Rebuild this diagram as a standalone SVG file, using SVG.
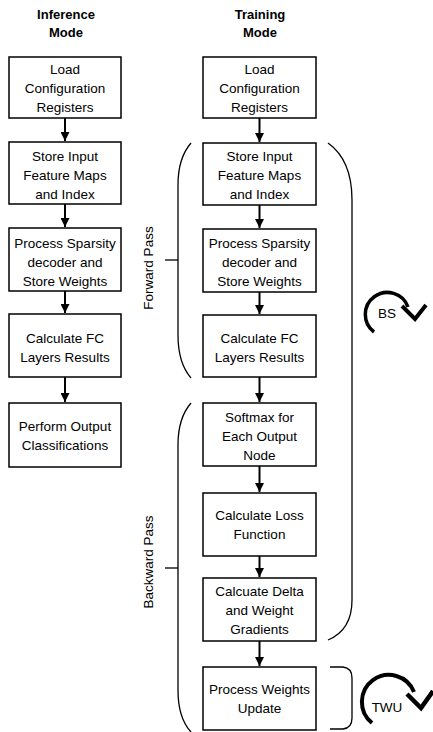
<svg xmlns="http://www.w3.org/2000/svg" width="433" height="732" viewBox="0 0 433 732">
<style>
.box{fill:#fff;stroke:#000;stroke-width:1.5}
.t{font-family:"Liberation Sans",Arial,sans-serif;font-size:13.5px;text-anchor:middle;fill:#000}
.h{font-family:"Liberation Sans",Arial,sans-serif;font-size:13px;font-weight:bold;text-anchor:middle;fill:#000}
.c{stroke:#000;stroke-width:2;fill:none}
.br{stroke:#000;stroke-width:1.3;fill:none}
.loop{stroke:#000;fill:none;stroke-linecap:butt}
</style>
<defs>
<marker id="ah" markerWidth="9" markerHeight="9" refX="9" refY="4.5" orient="auto" markerUnits="userSpaceOnUse" viewBox="0 0 9 9">
<path d="M0,0 L9,4.5 L0,9 Z" fill="#000"/>
</marker>
</defs>
<g id="titles">
<text class="h" x="66" y="19">Inference</text>
<text class="h" x="66" y="37">Mode</text>
<text class="h" x="260" y="19">Training</text>
<text class="h" x="260" y="37">Mode</text>
</g>
<g id="i1"><rect class="box" x="9" y="57" width="112" height="61"/><text class="t" x="65" y="74">Load</text><text class="t" x="65" y="93">Configuration</text><text class="t" x="65" y="112">Registers</text></g>
<g id="i2"><rect class="box" x="9" y="142" width="112" height="62"/><text class="t" x="65" y="161">Store Input</text><text class="t" x="65" y="180">Feature Maps</text><text class="t" x="65" y="199">and Index</text></g>
<g id="i3"><rect class="box" x="9" y="228" width="112" height="63"/><text class="t" x="65" y="248">Process Sparsity</text><text class="t" x="65" y="267">decoder and</text><text class="t" x="65" y="286">Store Weights</text></g>
<g id="i4"><rect class="box" x="9" y="314" width="112" height="63"/><text class="t" x="65" y="343">Calculate FC</text><text class="t" x="65" y="362">Layers Results</text></g>
<g id="i5"><rect class="box" x="9" y="403" width="112" height="64"/><text class="t" x="65" y="431">Perform Output</text><text class="t" x="65" y="450">Classifications</text></g>

<g id="t1"><rect class="box" x="203" y="57" width="113" height="61"/><text class="t" x="259.5" y="74">Load</text><text class="t" x="259.5" y="93">Configuration</text><text class="t" x="259.5" y="112">Registers</text></g>
<g id="t2"><rect class="box" x="203" y="143" width="113" height="62"/><text class="t" x="259.5" y="161">Store Input</text><text class="t" x="259.5" y="180">Feature Maps</text><text class="t" x="259.5" y="199">and Index</text></g>
<g id="t3"><rect class="box" x="203" y="229" width="113" height="63"/><text class="t" x="259.5" y="248">Process Sparsity</text><text class="t" x="259.5" y="267">decoder and</text><text class="t" x="259.5" y="286">Store Weights</text></g>
<g id="t4"><rect class="box" x="203" y="315" width="113" height="62"/><text class="t" x="259.5" y="343">Calculate FC</text><text class="t" x="259.5" y="362">Layers Results</text></g>
<g id="t5"><rect class="box" x="203" y="403" width="113" height="63"/><text class="t" x="259.5" y="422">Softmax for</text><text class="t" x="259.5" y="441">Each Output</text><text class="t" x="259.5" y="460">Node</text></g>
<g id="t6"><rect class="box" x="203" y="493" width="113" height="63"/><text class="t" x="259.5" y="520">Calculate Loss</text><text class="t" x="259.5" y="539">Function</text></g>
<g id="t7"><rect class="box" x="203" y="578" width="113" height="63"/><text class="t" x="259.5" y="596">Calcuate Delta</text><text class="t" x="259.5" y="615">and Weight</text><text class="t" x="259.5" y="634">Gradients</text></g>
<g id="t8"><rect class="box" x="203" y="667" width="113" height="63"/><text class="t" x="259.5" y="694">Process Weights</text><text class="t" x="259.5" y="713">Update</text></g>

<g id="connectors">
<line class="c" x1="65" y1="118" x2="65" y2="141" marker-end="url(#ah)"/>
<line class="c" x1="65" y1="204" x2="65" y2="227" marker-end="url(#ah)"/>
<line class="c" x1="65" y1="291" x2="65" y2="313" marker-end="url(#ah)"/>
<line class="c" x1="65" y1="377" x2="65" y2="402" marker-end="url(#ah)"/>
<line class="c" x1="259.5" y1="118" x2="259.5" y2="142" marker-end="url(#ah)"/>
<line class="c" x1="259.5" y1="205" x2="259.5" y2="228" marker-end="url(#ah)"/>
<line class="c" x1="259.5" y1="292" x2="259.5" y2="314" marker-end="url(#ah)"/>
<line class="c" x1="259.5" y1="377" x2="259.5" y2="402" marker-end="url(#ah)"/>
<line class="c" x1="259.5" y1="466" x2="259.5" y2="492" marker-end="url(#ah)"/>
<line class="c" x1="259.5" y1="556" x2="259.5" y2="577" marker-end="url(#ah)"/>
<line class="c" x1="259.5" y1="641" x2="259.5" y2="666" marker-end="url(#ah)"/>
</g>

<g id="brackets">
<path class="br" d="M191,143 Q178,158 178,185 L178,335 Q178,363 191,378"/>
<line class="br" x1="165" y1="260" x2="178" y2="260" stroke-width="2"/>
<path class="br" d="M191,403 Q178,418 178,445 L178,690 Q178,718 191,732"/>
<line class="br" x1="165" y1="568" x2="178" y2="568" stroke-width="2"/>
<path class="br" d="M328,143 Q352,160 352,200 L352,600 Q352,630 328,640"/>
<path class="br" d="M330,667 L343,667 Q352,668 352,678 L352,718 Q352,728 343,729 L330,729"/>
</g>
<g id="labels">
<text class="t" transform="translate(153,268) rotate(-90)">Forward Pass</text>
<text class="t" transform="translate(153,562) rotate(-90)">Backward Pass</text>
</g>
<g id="bs">
<path class="loop" stroke-width="3.5" d="M374,332 A22,22 0 1 1 408,307"/>
<path class="loop" stroke-width="4" d="M402,306 L415,319 L426,305"/>
<text class="t" x="387" y="318" font-size="12">BS</text>
</g>
<g id="twu">
<path class="loop" stroke-width="4" d="M372,723 A27,27 0 1 1 414,692"/>
<path class="loop" stroke-width="4.5" d="M407,694 L421,708 L433,691"/>
<text class="t" x="387" y="712" font-size="12">TWU</text>
</g>
</svg>
